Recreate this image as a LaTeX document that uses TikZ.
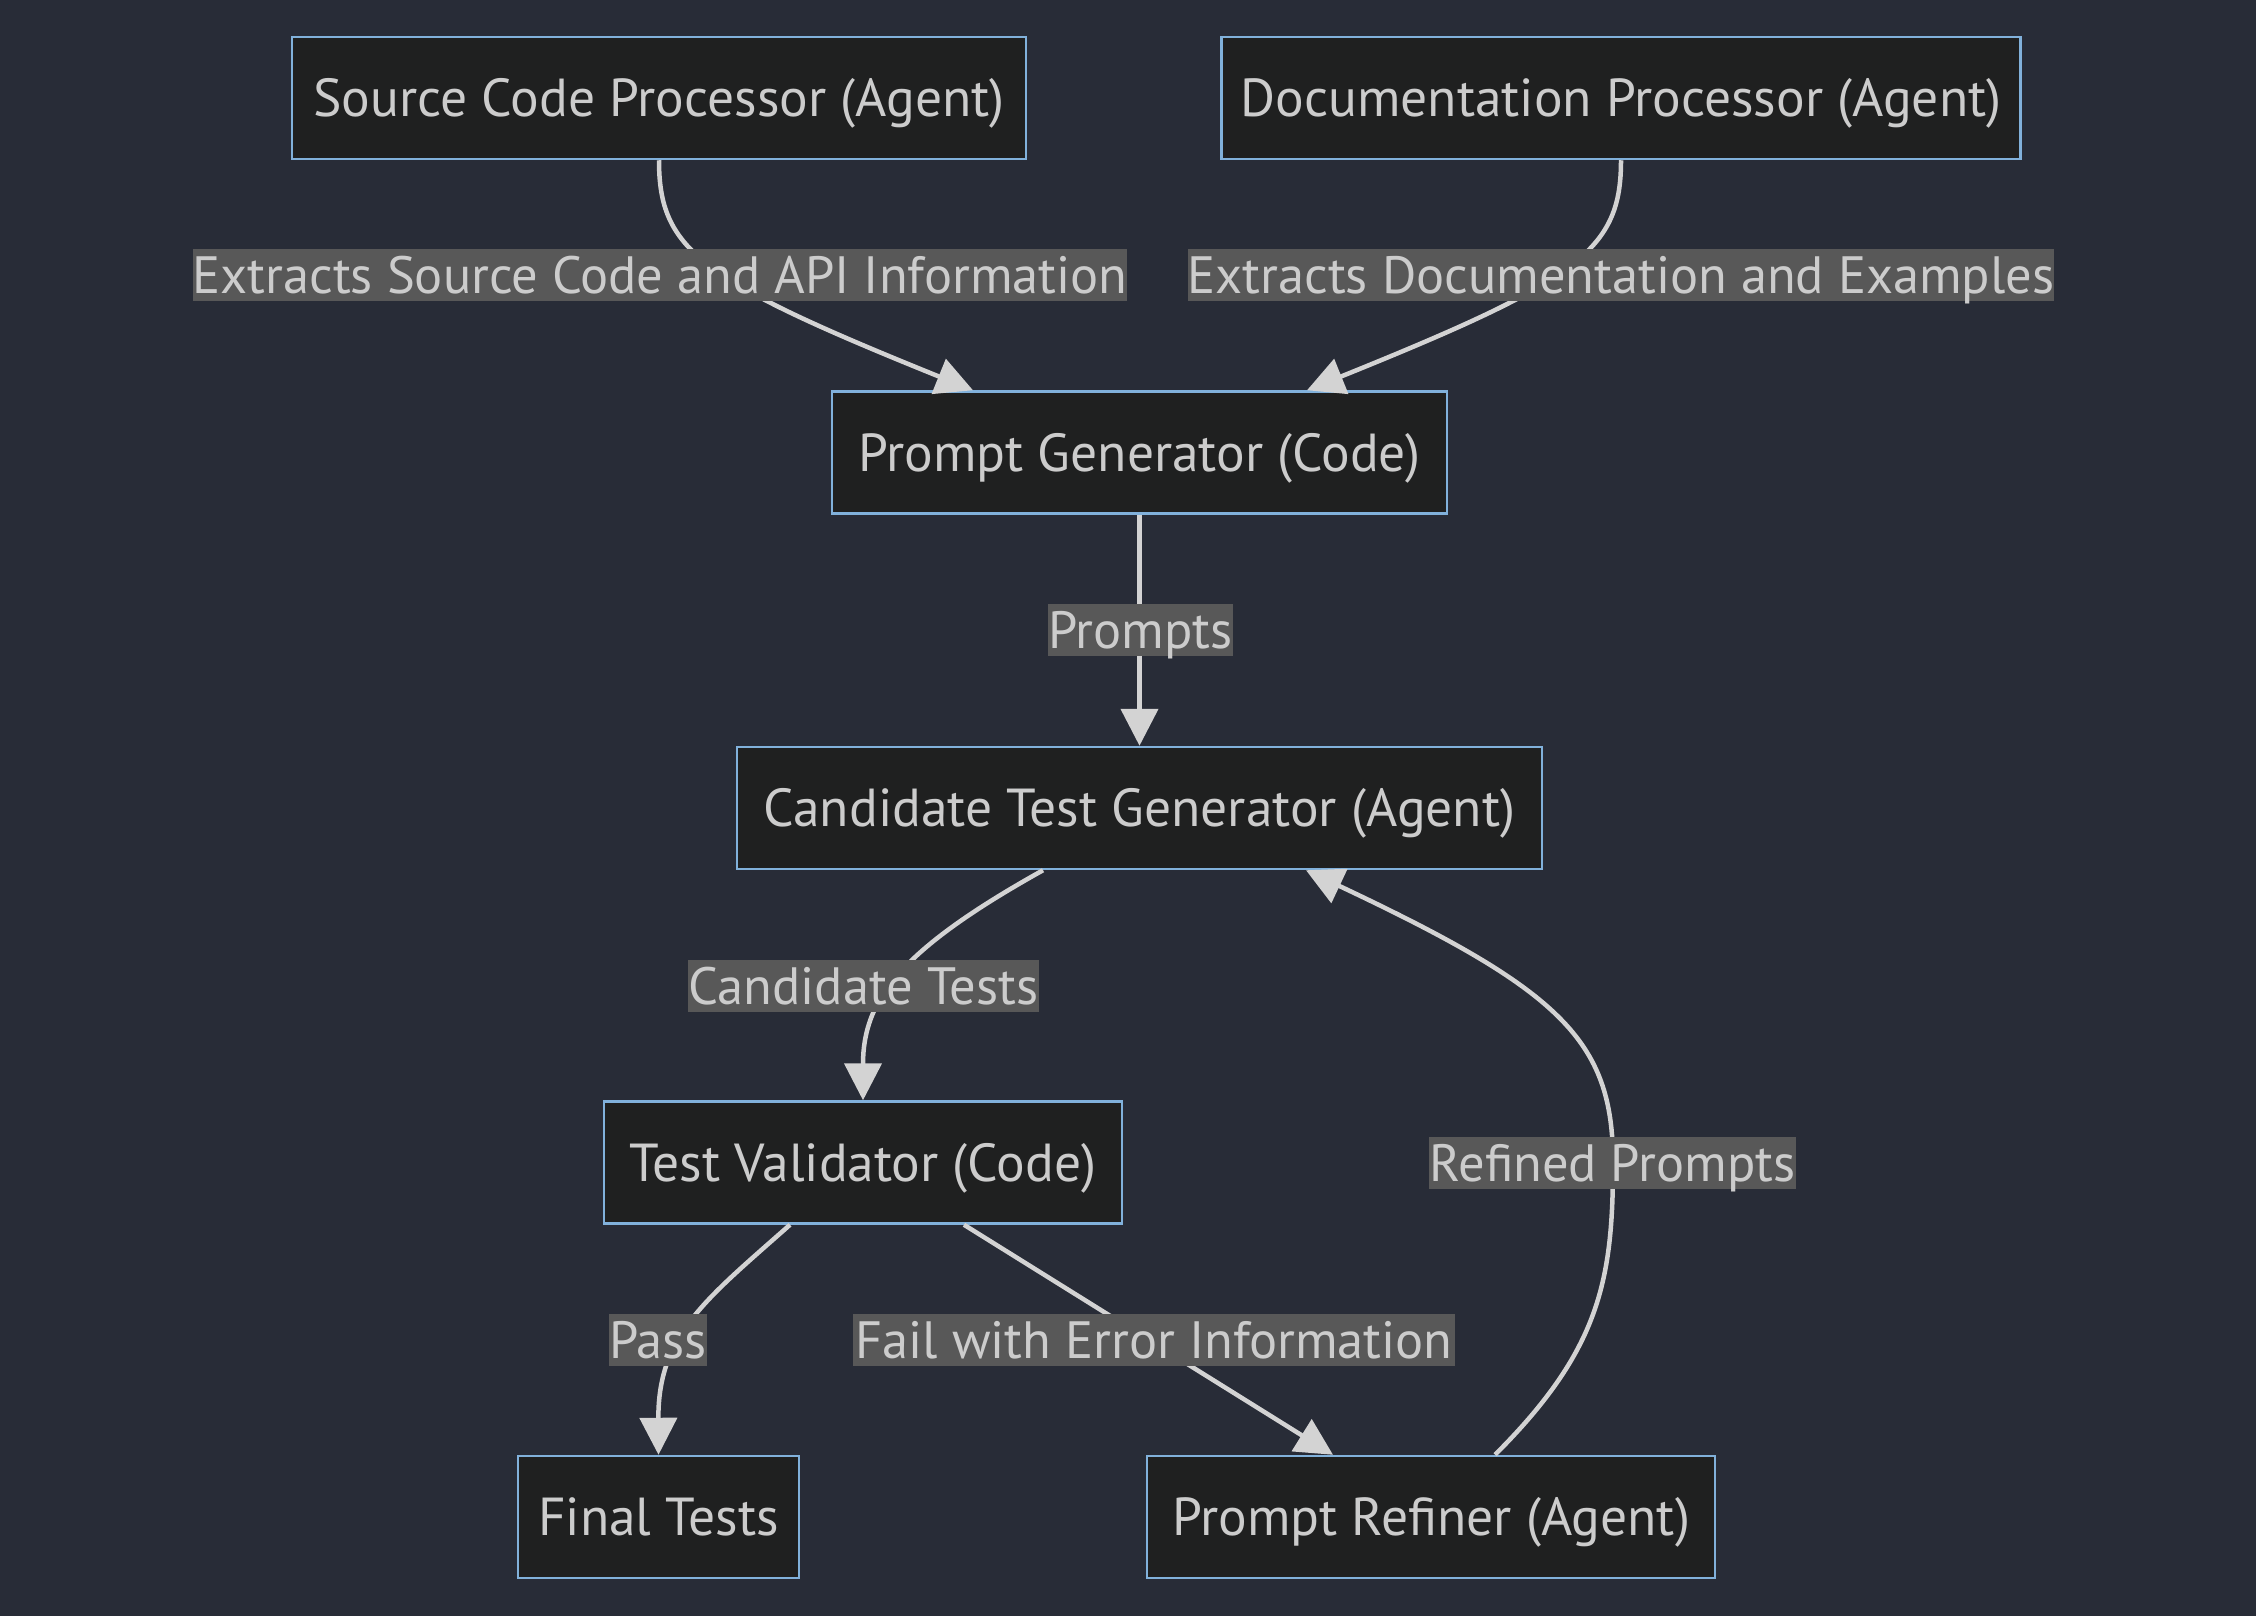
\documentclass[tikz,border=0pt]{standalone}
\usepackage{fontspec}
\setmainfont{PT Sans}
\usetikzlibrary{arrows.meta,calc}
\definecolor{bg}{HTML}{282C37}
\definecolor{nodefill}{HTML}{1F2020}
\definecolor{nodeborder}{HTML}{81B1DB}
\definecolor{txt}{HTML}{CCCCCC}
\definecolor{edgecol}{HTML}{D3D3D3}
\definecolor{lblbg}{HTML}{585858}
\begin{document}
\begin{tikzpicture}[x=1pt,y=-1pt,
 box/.style={draw=nodeborder, fill=nodefill, line width=2.5pt, minimum height=122pt, inner sep=0pt, text=txt, font=\fontsize{53.5}{60}\selectfont, text height=42pt, text depth=4.5pt},
 lbl/.style={fill=lblbg, inner sep=0pt, minimum height=52pt, text=txt, font=\fontsize{52.5}{60}\selectfont, text height=42pt, text depth=4.5pt},
 conn/.style={draw=edgecol, line width=4.5pt, -{Triangle[length=37pt,width=37pt]}}
]
\fill[bg] (0,0) rectangle (2256,1616);
\useasboundingbox (0,0) rectangle (2256,1616);

\node[box, minimum width=734pt] (src) at (659,98) {Source Code Processor (Agent)};
\node[box, minimum width=799pt] (doc) at (1621,98) {Documentation Processor (Agent)};
\node[box, minimum width=615pt] (pg) at (1139.5,452.5) {Prompt Generator (Code)};
\node[box, minimum width=805pt] (ctg) at (1139.5,808) {Candidate Test Generator (Agent)};
\node[box, minimum width=518pt] (tv) at (863,1162.5) {Test Validator (Code)};
\node[box, minimum width=281pt] (ft) at (658.5,1517) {Final Tests};
\node[box, minimum width=568pt] (pr) at (1431,1517) {Prompt Refiner (Agent)};

\coordinate (pgA) at ($(pg.north)+(-166.5,0)$);
\coordinate (pgB) at ($(pg.north)+(167.5,0)$);
\coordinate (ctgOut) at ($(ctg.south)+(-96.5,0)$);
\coordinate (ctgIn) at ($(ctg.south)+(166.5,0)$);
\coordinate (tvA) at ($(tv.south)+(-73,0)$);
\coordinate (tvB) at ($(tv.south)+(101,0)$);
\coordinate (prIn) at ($(pr.north)+(-98,0)$);
\coordinate (prOut) at ($(pr.north)+(64,0)$);
\coordinate (rp) at (1613,1162);

\draw[conn] (src.south) .. controls (659,250) and (700,280) .. (pgA);
\draw[conn] (doc.south) .. controls (1621,250) and (1580,280) .. (pgB);
\draw[conn] (pg.south) -- (ctg.north);
\draw[conn] (ctgOut) .. controls (900,950) and (863,1000) .. (tv.north);
\draw[conn] (tvA) .. controls (705,1300) and (658,1335) .. (ft.north);
\draw[conn] (tvB) -- (prIn);
\draw[conn] (prOut) .. controls (1600,1350) and (1613,1280) .. (rp) .. controls (1613,1040) and (1560,990) .. (ctgIn);

\node[lbl, minimum width=934pt] (l1) at (660,275) {Extracts Source Code and API Information};
\node[lbl, minimum width=862pt] (l2) at (1621,275) {Extracts Documentation and Examples};
\node[lbl, minimum width=183pt] (l3) at (1140.5,630) {Prompts};
\node[lbl, minimum width=351pt] (l4) at (863.5,986) {Candidate Tests};
\node[lbl, minimum width=367pt] (l5) at (1612.5,1162.5) {Refined Prompts};
\node[lbl, minimum width=94pt] (l6) at (658,1340) {Pass};
\node[lbl, minimum width=602pt] (l7) at (1154,1340) {Fail with Error Information};
\end{tikzpicture}
\end{document}
